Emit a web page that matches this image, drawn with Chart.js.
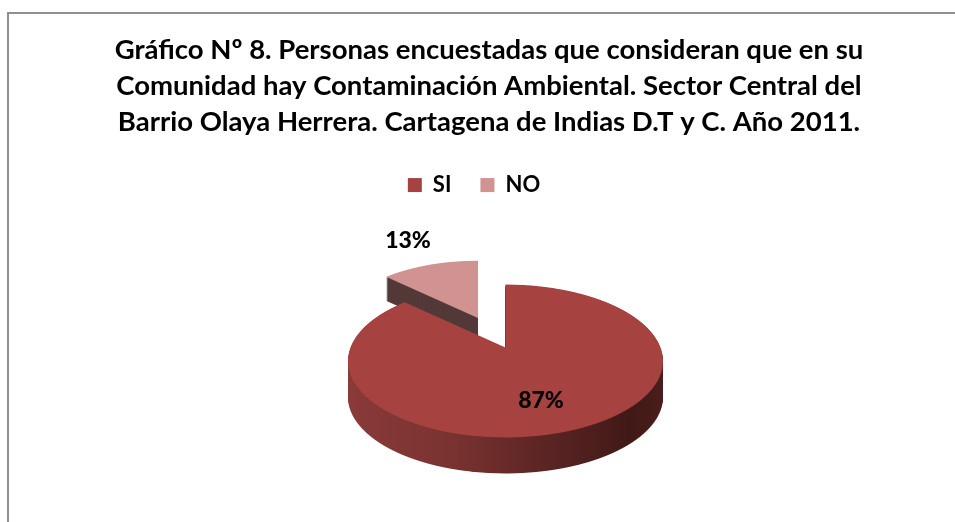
<!DOCTYPE html>
<html lang="es">
<head>
    <meta charset="UTF-8">
    <title>Gráfico Nº 8</title>
    <script src="https://cdn.jsdelivr.net/npm/chart.js"></script>
    <style>
        html, body { margin: 0; height: 100%; overflow: hidden; background: #fff; }
        #frame { position: absolute; left: 7px; top: 12px; border-left: 2px solid #8f8f8f; border-top: 2px solid #8f8f8f; }
        canvas { display: block; }
    </style>
</head>
<body>
    <div id="frame"><canvas id="pieChart" width="960" height="508"></canvas></div>

    <script>
        const categories = ['SI', 'NO'];
        const values = [87, 13];
        const faceColors = ['#A64341', '#D09391'];
        const titleLines = [
            'Gráfico Nº 8. Personas encuestadas que consideran que en su',
            'Comunidad hay Contaminación Ambiental. Sector Central del',
            'Barrio Olaya Herrera. Cartagena de Indias D.T y C. Año 2011.'
        ];

        // Fake 3D: every arc is redrawn row by row under a perspective mapping
        const PERSPECTIVE = -0.176;
        const FACE_RX = 155;
        const FACE_RY = 74.1;
        const views = [
            { dx: 16.5, dy: -10.5, scale: 1, depth: 36 },
            { dx: -11, dy: -40, scale: 0.91, depth: 24 }
        ];
        const labelOffsets = [[52, 43], [-81, -117]];
        const LEGEND_SHIFT = -15;

        function plainOptions(color) {
            return {
                backgroundColor: color, borderColor: 'transparent', borderWidth: 0, borderAlign: 'center',
                borderDash: [], borderDashOffset: 0, borderJoinStyle: 'round', borderRadius: 0,
                circular: true, offset: 0, spacing: 0, selfJoin: false
            };
        }

        function drawProjected(ctx, chart, arc, view, shift, color) {
            const R = arc.outerRadius;
            const ox = arc.x + view.dx;
            const oy = arc.y + view.dy + shift;
            const rx = FACE_RX * view.scale;
            const ry = FACE_RY * view.scale;
            const top = Math.floor(oy - ry / (1 - PERSPECTIVE) - 2);
            const bottom = Math.ceil(oy + ry / (1 + PERSPECTIVE) + 2);
            const saved = arc.options;
            arc.options = plainOptions(color);
            for (let row = top; row <= bottom; row++) {
                const y = row + 0.5 - oy;
                const t = y / (ry - PERSPECTIVE * y);
                const w = 1 + PERSPECTIVE * t;
                const a = rx / (w * R);
                const d = ry / (w * w * R);
                ctx.save();
                ctx.beginPath();
                ctx.rect(0, row, chart.width, 1);
                ctx.clip();
                ctx.setTransform(a, 0, 0, d, ox - arc.x * a, row + 0.5 - (arc.y + t * R) * d);
                arc.draw(ctx);
                ctx.restore();
            }
            arc.options = saved;
        }

        const pie3d = {
            id: 'pie3d',
            afterLayout(chart) {
                chart.legend.left += LEGEND_SHIFT;
                chart.legend.right += LEGEND_SHIFT;
            },
            beforeDatasetsDraw(chart) {
                const ctx = chart.ctx;
                const arcs = chart.getDatasetMeta(0).data;
                const main = arcs[0];
                const wall = ctx.createLinearGradient(main.x - main.outerRadius, 0, main.x + main.outerRadius, 0);
                wall.addColorStop(0, '#8C3B39');
                wall.addColorStop(0.35, '#7A3331');
                wall.addColorStop(0.6, '#5C2524');
                wall.addColorStop(0.85, '#401917');
                wall.addColorStop(1, '#4C1E1B');

                // exploded slice first, the big one overlaps its cut face
                for (let s = views[1].depth; s > 0; s--) {
                    drawProjected(ctx, chart, arcs[1], views[1], s, '#533A39');
                }
                drawProjected(ctx, chart, arcs[1], views[1], 0, faceColors[1]);
                for (let s = views[0].depth; s > 0; s--) {
                    drawProjected(ctx, chart, arcs[0], views[0], s, wall);
                }
                drawProjected(ctx, chart, arcs[0], views[0], 0, faceColors[0]);
                return false;
            },
            afterDraw(chart) {
                const ctx = chart.ctx;
                const main = chart.getDatasetMeta(0).data[0];
                ctx.save();
                ctx.font = '900 23px Lato';
                ctx.fillStyle = '#000';
                ctx.textAlign = 'center';
                ctx.textBaseline = 'middle';
                values.forEach((v, i) => {
                    ctx.fillText(v + '%', main.x + labelOffsets[i][0], main.y + labelOffsets[i][1]);
                });
                ctx.restore();
            }
        };

        new Chart(document.getElementById('pieChart').getContext('2d'), {
            type: 'pie',
            data: {
                labels: categories,
                datasets: [{ data: values, backgroundColor: faceColors, borderWidth: 0 }]
            },
            options: {
                responsive: false,
                animation: false,
                events: [],
                layout: { padding: { bottom: 12 } },
                plugins: {
                    tooltip: { enabled: false },
                    title: {
                        display: true,
                        text: titleLines,
                        color: '#000',
                        font: { family: 'Lato', size: 27.5, weight: 'bold', lineHeight: 1.31 },
                        padding: { top: 18, bottom: 5 }
                    },
                    legend: {
                        position: 'top',
                        labels: {
                            color: '#000',
                            boxWidth: 14,
                            boxHeight: 14,
                            padding: 29,
                            font: { family: 'Lato', size: 22, weight: 'bold' }
                        }
                    }
                }
            },
            plugins: [pie3d]
        });
    </script>
</body>
</html>
